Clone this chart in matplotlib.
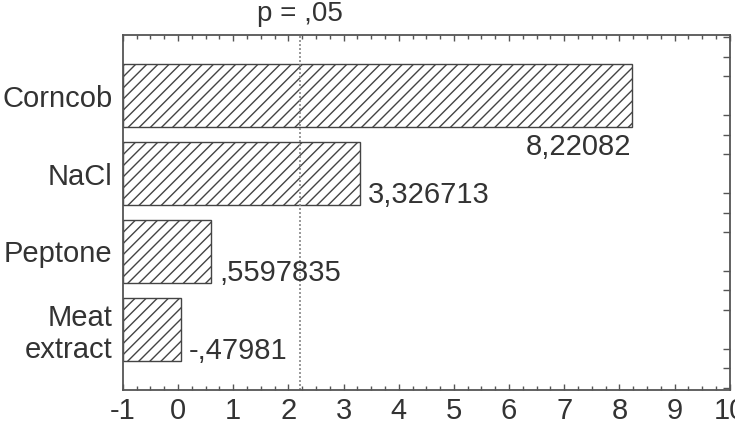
import matplotlib
import matplotlib.pyplot as plt

matplotlib.use("Agg")

# data
factors = ["Corncob", "NaCl", "Peptone", "Meat\nextract"]
bar_ends = [8.22, 3.30, 0.60, 0.05]
value_labels = ["8,22082", "3,326713", ",5597835", "-,47981"]
p_crit = 2.21
x_ticks = list(range(-1, 11))

plt.rcParams["font.family"] = ["Liberation Sans", "DejaVu Sans"]
plt.rcParams["hatch.linewidth"] = 1.0
plt.rcParams["hatch.color"] = "#444444"

fig = plt.figure(figsize=(7.35, 4.32), dpi=100)
ax = fig.add_axes([0.167, 0.097, 0.826, 0.822])

edge = "#555555"
txt = "#333333"
fs = 21
base = -1

ypos = list(range(len(factors)))
ax.barh(ypos, [v - base for v in bar_ends], left=base, height=0.81,
        color="white", edgecolor="#444444", hatch="///", linewidth=1.0)

# value labels next to (or under) each bar
for i, (v, lab) in enumerate(zip(bar_ends, value_labels)):
    if v > 7:
        ax.text(v, i + 0.66, lab, ha="right", va="center", fontsize=fs, color=txt)
    else:
        ax.text(v + 0.15, i + 0.28, lab, ha="left", va="center", fontsize=fs, color=txt)

# significance line
ax.axvline(p_crit, color="#888888", linestyle=(0, (1.2, 1.2)), linewidth=1.2)
ax.text(p_crit, 1.06, "p = ,05", transform=ax.get_xaxis_transform(),
        ha="center", va="center", fontsize=20, color=txt)

ax.set_xlim(-1, 10)
ax.set_ylim(3.78, -0.78)
ax.set_xticks(x_ticks)
ax.set_xticklabels([str(t) for t in x_ticks], fontsize=fs, color=txt)
ax.set_xticks([t / 4 for t in range(-4, 41)], minor=True)
ax.set_yticks(ypos)
ax.set_yticklabels(factors, fontsize=fs, color=txt, linespacing=1.18)

ax.tick_params(axis="x", which="both", direction="in", top=True, color=edge,
               length=3, width=1.0, pad=5)
ax.tick_params(axis="x", which="major", length=4)
ax.tick_params(axis="y", which="major", left=False, pad=4)
ax.set_yticks([i * 0.25 - 0.75 for i in range(19)], minor=True)
ax.tick_params(axis="y", which="minor", left=False, right=True, direction="in",
               length=5, color=edge, width=1.0)

for s in ax.spines.values():
    s.set_color(edge)
    s.set_linewidth(1.3)

fig.savefig("out.png", dpi=100)
plt.close(fig)
